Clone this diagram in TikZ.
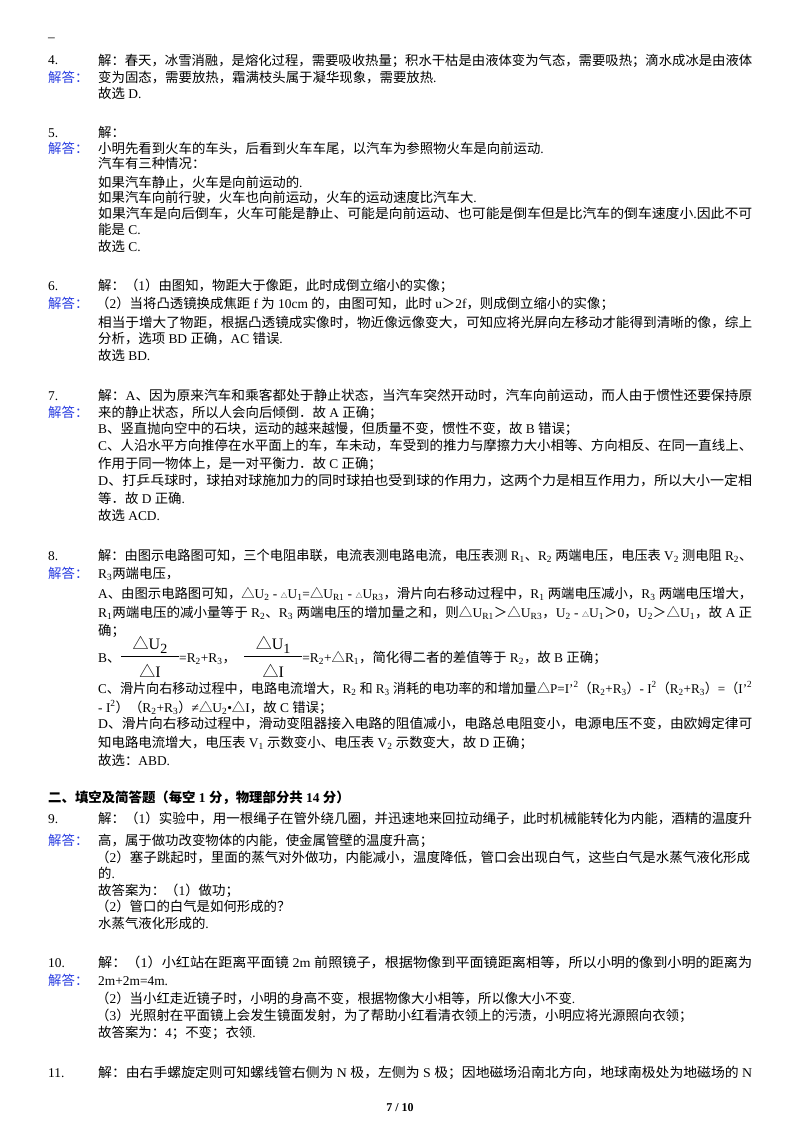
\documentclass[tikz,border=0pt]{standalone}
\usepackage{fontspec}
\usepackage{graphicx}
\usetikzlibrary{calc}
\setmainfont{Liberation Serif}
\newfontfamily\cjk{Noto Sans CJK SC}
\XeTeXinterchartokenstate=1
\newXeTeXintercharclass\CJKcls
\newcount\cc
\cc="4E00 \loop \XeTeXcharclass\cc=\CJKcls \ifnum\cc<"9FFF \advance\cc 1 \repeat
\cc="3000 \loop \XeTeXcharclass\cc=\CJKcls \ifnum\cc<"303F \advance\cc 1 \repeat
\cc="FF00 \loop \XeTeXcharclass\cc=\CJKcls \ifnum\cc<"FFEF \advance\cc 1 \repeat
\XeTeXcharclass"25B3=\CJKcls
\XeTeXinterchartoks 0 \CJKcls={\cjk}
\XeTeXinterchartoks 4095 \CJKcls={\cjk}
\XeTeXinterchartoks \CJKcls 0={\rmfamily}
\XeTeXinterchartoks \CJKcls 4095={\rmfamily}
\definecolor{ans}{RGB}{40,60,225}
\newcommand\sbs[1]{\textsubscript{#1}}
\newcommand\sps[1]{\textsuperscript{#1}}
\newcommand\sd{{\fontsize{7}{8}\selectfont △}}
\newcommand\fl[1]{\resizebox{654pt}{\height}{#1}}
\begin{document}
\begin{tikzpicture}[x=1pt,y=-1pt,
  every node/.style={anchor=base west,inner sep=0pt,font=\fontsize{13.4}{16}\selectfont},
  jd/.style={text=ans},
  fr/.style={anchor=base,font=\fontsize{16}{18}\selectfont}]
\useasboundingbox[fill=white] (0,0) rectangle (800,1132);
\node (dash) at (48,42) {–};
% 4
\node (n4) at (48,65) {4.};
\node (a1) at (98,65) {\fl{解：春天，冰雪消融，是熔化过程，需要吸收热量；积水干枯是由液体变为气态，需要吸热；滴水成冰是由液体}};
\node[jd] (j4) at (48,82) {解答：};
\node (a2) at (98,82) {变为固态，需要放热，霜满枝头属于凝华现象，需要放热.};
\node (a3) at (98,98) {故选 D.};
% 5
\node (n5) at (48,137) {5.};
\node (b1) at (98,137) {解：};
\node[jd] (j5) at (48,153) {解答：};
\node (b2) at (98,153) {小明先看到火车的车头，后看到火车车尾，以汽车为参照物火车是向前运动.};
\node (b3) at (98,168) {汽车有三种情况：};
\node (b4) at (98,187) {如果汽车静止，火车是向前运动的.};
\node (b5) at (98,202) {如果汽车向前行驶，火车也向前运动，火车的运动速度比汽车大.};
\node (b6) at (98,218) {\fl{如果汽车是向后倒车，火车可能是静止、可能是向前运动、也可能是倒车但是比汽车的倒车速度小.因此不可}};
\node (b7) at (98,234) {能是 C.};
\node (b8) at (98,251) {故选 C.};
% 6
\node (n6) at (48,290) {6.};
\node (c1) at (98,290) {解：（1）由图知，物距大于像距，此时成倒立缩小的实像；};
\node[jd] (j6) at (48,308) {解答：};
\node (c2) at (96,308) {（2）当将凸透镜换成焦距 f 为 10cm 的，由图可知，此时 u＞2f，则成倒立缩小的实像；};
\node (c3) at (98,327) {\fl{相当于增大了物距，根据凸透镜成实像时，物近像远像变大，可知应将光屏向左移动才能得到清晰的像，综上}};
\node (c4) at (98,343) {分析，选项 BD 正确，AC 错误.};
\node (c5) at (98,360) {故选 BD.};
% 7
\node (n7) at (48,400) {7.};
\node (d1) at (98,400) {\fl{解：A、因为原来汽车和乘客都处于静止状态，当汽车突然开动时，汽车向前运动，而人由于惯性还要保持原}};
\node[jd] (j7) at (48,417) {解答：};
\node (d2) at (98,417) {来的静止状态，所以人会向后倾倒．故 A 正确；};
\node (d3) at (98,433) {B、竖直抛向空中的石块，运动的越来越慢，但质量不变，惯性不变，故 B 错误；};
\node (d4) at (98,450) {\fl{C、人沿水平方向推停在水平面上的车，车未动，车受到的推力与摩擦力大小相等、方向相反、在同一直线上、}};
\node (d5) at (98,468) {作用于同一物体上，是一对平衡力．故 C 正确；};
\node (d6) at (98,485) {\fl{D、打乒乓球时，球拍对球施加力的同时球拍也受到球的作用力，这两个力是相互作用力，所以大小一定相}};
\node (d7) at (98,503) {等．故 D 正确.};
\node (d8) at (98,520) {故选 ACD.};
% 8
\node (n8) at (48,560) {8.};
\node (e1) at (98,560) {\fl{解：由图示电路图可知，三个电阻串联，电流表测电路电流，电压表测 R\sbs{1}、R\sbs{2} 两端电压，电压表 V\sbs{2} 测电阻 R\sbs{2}、}};
\node[jd] (j8) at (48,578) {解答：};
\node (e2) at (98,578) {R\sbs{3}两端电压，};
\node (e3) at (98,598) {\fl{A、由图示电路图可知，△U\sbs{2} - \sd U\sbs{1}=△U\sbs{R1} - \sd U\sbs{R3}，滑片向右移动过程中，R\sbs{1} 两端电压减小，R\sbs{3} 两端电压增大，}};
\node (e4) at (98,617) {\fl{R\sbs{1}两端电压的减小量等于 R\sbs{2}、R\sbs{3} 两端电压的增加量之和，则△U\sbs{R1}＞△U\sbs{R3}，U\sbs{2} - \sd U\sbs{1}＞0，U\sbs{2}＞△U\sbs{1}，故 A 正}};
\node (e5) at (98,635) {确；};
\node (e6) at (98,662) {B、};
\node[fr] (f1n) at (150,649) {△U\raisebox{-4pt}{\fontsize{14}{16}\selectfont 2}};
\draw[line width=0.6pt] (121,656) -- (179,656);
\node[fr] (f1d) at (150,677) {△I};
\node (e7) at (179,662) {=R\sbs{2}+R\sbs{3}，};
\coordinate (p) at (e7.base east);
\draw[line width=0.6pt] ($(p)+(8,-6)$) -- ($(p)+(66,-6)$);
\node[fr] (f2n) at ($(p)+(37,-13)$) {△U\raisebox{-4pt}{\fontsize{14}{16}\selectfont 1}};
\node[fr] (f2d) at ($(p)+(37,15)$) {△I};
\node (e8) at ($(p)+(66,0)$) {=R\sbs{2}+△R\sbs{1}，简化得二者的差值等于 R\sbs{2}，故 B 正确；};
\node (e9) at (98,693) {\fl{C、滑片向右移动过程中，电路电流增大，R\sbs{2} 和 R\sbs{3} 消耗的电功率的和增加量△P=I'\sps{2}（R\sbs{2}+R\sbs{3}）- I\sps{2}（R\sbs{2}+R\sbs{3}）=（I'\sps{2}}};
\node (e10) at (98,712) {- I\sps{2}）（R\sbs{2}+R\sbs{3}）≠△U\sbs{2}•△I，故 C 错误；};
\node (e11) at (98,728) {\fl{D、滑片向右移动过程中，滑动变阻器接入电路的阻值减小，电路总电阻变小，电源电压不变，由欧姆定律可}};
\node (e12) at (98,747) {知电路电流增大，电压表 V\sbs{1} 示数变小、电压表 V\sbs{2} 示数变大，故 D 正确；};
\node (e13) at (98,765) {故选：ABD.};
% header
\node[font=\fontsize{13.4}{16}\selectfont\bfseries] (hd) at (48,802) {二、填空及简答题（每空 1 分，物理部分共 14 分）};
% 9
\node (n9) at (48,823) {9.};
\node (g1) at (98,823) {\fl{解：（1）实验中，用一根绳子在管外绕几圈，并迅速地来回拉动绳子，此时机械能转化为内能，酒精的温度升}};
\node[jd] (j9) at (48,845) {解答：};
\node (g2) at (98,845) {高，属于做功改变物体的内能，使金属管壁的温度升高；};
\node (g3) at (96,862) {\fl{（2）塞子跳起时，里面的蒸气对外做功，内能减小，温度降低，管口会出现白气，这些白气是水蒸气液化形成}};
\node (g4) at (98,878) {的.};
\node (g5) at (98,895) {故答案为：（1）做功；};
\node (g6) at (96,911) {（2）管口的白气是如何形成的？};
\node (g7) at (98,928) {水蒸气液化形成的.};
% 10
\node (n10) at (48,967) {10.};
\node (h1) at (98,967) {\fl{解：（1）小红站在距离平面镜 2m 前照镜子，根据物像到平面镜距离相等，所以小明的像到小明的距离为}};
\node[jd] (j10) at (48,985) {解答：};
\node (h2) at (98,985) {2m+2m=4m.};
\node (h3) at (96,1003) {（2）当小红走近镜子时，小明的身高不变，根据物像大小相等，所以像大小不变.};
\node (h4) at (96,1020) {（3）光照射在平面镜上会发生镜面发射，为了帮助小红看清衣领上的污渍，小明应将光源照向衣领；};
\node (h5) at (98,1037) {故答案为：4；不变；衣领.};
% 11
\node (n11) at (48,1077) {11.};
\node (k1) at (98,1077) {\fl{解：由右手螺旋定则可知螺线管右侧为 N 极，左侧为 S 极；因地磁场沿南北方向，地球南极处为地磁场的 N}};
\node[anchor=base,font=\fontsize{12}{14}\selectfont\bfseries] (pg) at (400,1111) {7 / 10};
\end{tikzpicture}
\end{document}
